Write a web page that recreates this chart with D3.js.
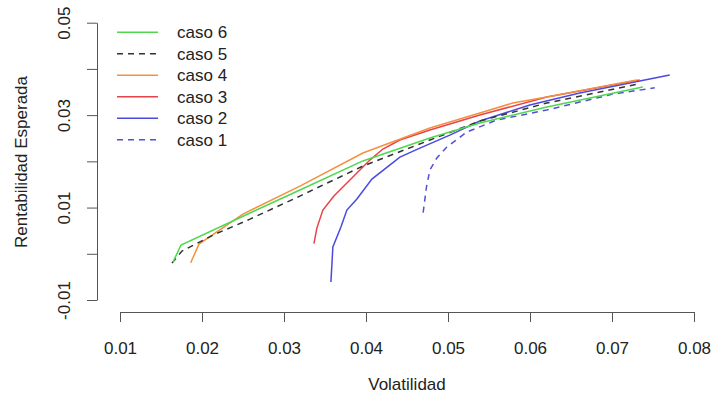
<!DOCTYPE html>
<html>
<head>
<meta charset="utf-8">
<script src="https://cdn.jsdelivr.net/npm/d3@7"></script>
<style>
  body { margin: 0; background: #fff; }
  text { font-family: "Liberation Sans", Arial, sans-serif; fill: #222; }
</style>
</head>
<body>
<div id="frontier"></div>
<script>
// Values (volatility, expected return)
const caso1Vol = [0.04697, 0.04738, 0.04779, 0.04864, 0.04986, 0.0523, 0.05595, 0.06205, 0.07009, 0.07521];
const caso1Ret = [0.00892, 0.0145, 0.01812, 0.02072, 0.0231, 0.02635, 0.02894, 0.0311, 0.03455, 0.0359];

const caso2Vol = [0.03572, 0.03596, 0.03694, 0.03767, 0.03889, 0.04072, 0.04413, 0.04657, 0.05022, 0.05388, 0.05998, 0.06607, 0.07704];
const caso2Ret = [-0.00612, 0.00146, 0.00579, 0.00946, 0.01184, 0.01615, 0.02091, 0.02286, 0.02567, 0.02872, 0.03218, 0.03478, 0.03868];

const caso3Vol = [0.03365, 0.03401, 0.03474, 0.03609, 0.03804, 0.04047, 0.04206, 0.04413, 0.04779, 0.05388, 0.06205, 0.07338];
const caso3Ret = [0.00221, 0.00556, 0.00946, 0.01249, 0.01595, 0.02028, 0.02267, 0.02461, 0.02678, 0.03003, 0.03392, 0.0376];

const caso4Vol = [0.01862, 0.01963, 0.02499, 0.03194, 0.03962, 0.04779, 0.05388, 0.0579, 0.06205, 0.07302];
const caso4Ret = [-0.00195, 0.0021, 0.00859, 0.01465, 0.0218, 0.02721, 0.03046, 0.03262, 0.03392, 0.0376];

const caso5Vol = [0.01634, 0.01756, 0.02134, 0.02585, 0.03194, 0.03962, 0.04779, 0.05388, 0.06205, 0.07314];
const caso5Ret = [-0.0020, 0.00058, 0.00404, 0.00749, 0.01249, 0.01898, 0.02461, 0.02872, 0.03262, 0.03673];

const caso6Vol = [0.01646, 0.01744, 0.02585, 0.03194, 0.03962, 0.04779, 0.05388, 0.06205, 0.07375];
const caso6Ret = [-0.0018, 0.00189, 0.00883, 0.01381, 0.02009, 0.02505, 0.02829, 0.03175, 0.03608];

const legendNames = ["caso 6", "caso 5", "caso 4", "caso 3", "caso 2", "caso 1"];

const xTicks = [0.01, 0.02, 0.03, 0.04, 0.05, 0.06, 0.07, 0.08];
const yTicks = [-0.01, 0, 0.01, 0.02, 0.03, 0.04, 0.05];
const yTickLabels = ["-0.01", "", "0.01", "", "0.03", "", "0.05"];

// Series styling
const series = [
  { name: "caso 1", vol: caso1Vol, ret: caso1Ret, color: "#5050d8", dash: "6,5" },
  { name: "caso 2", vol: caso2Vol, ret: caso2Ret, color: "#4a4ae0", dash: null },
  { name: "caso 3", vol: caso3Vol, ret: caso3Ret, color: "#e8434a", dash: null },
  { name: "caso 4", vol: caso4Vol, ret: caso4Ret, color: "#f3913f", dash: null },
  { name: "caso 5", vol: caso5Vol, ret: caso5Ret, color: "#333333", dash: "6,5" },
  { name: "caso 6", vol: caso6Vol, ret: caso6Ret, color: "#4ed84e", dash: null }
];

const width = 713;
const height = 403;

const svg = d3.select("#frontier")
  .append("svg")
  .attr("width", width)
  .attr("height", height);

// Scales (R style: axis lines sit at the edge of the plot region)
const xScale = d3.scaleLinear().domain([0.01, 0.08]).range([120, 694]);
const yScale = d3.scaleLinear().domain([-0.01, 0.05]).range([300, 22.7]);
const xAxisY = 312;
const yAxisX = 97;

// x-axis
const xAxis = svg.append("g")
  .attr("transform", `translate(0,${xAxisY})`)
  .call(d3.axisBottom(xScale).tickValues(xTicks).tickSize(10).tickSizeOuter(0)
    .tickFormat(d3.format(".2f")));
xAxis.selectAll("path, line").attr("stroke", "#555");
xAxis.selectAll("text")
  .attr("y", 30)
  .style("font-size", "17px")
  .style("fill", "#222");

// y-axis with rotated labels
const yAxis = svg.append("g")
  .attr("transform", `translate(${yAxisX},0)`)
  .call(d3.axisLeft(yScale).tickValues(yTicks).tickSize(10).tickSizeOuter(0)
    .tickFormat((d, i) => yTickLabels[i]));
yAxis.selectAll("path, line").attr("stroke", "#555");
yAxis.selectAll("text")
  .attr("transform", "rotate(-90)")
  .attr("x", 0)
  .attr("y", -33)
  .attr("dy", "0.35em")
  .attr("text-anchor", "middle")
  .style("font-size", "17px")
  .style("fill", "#222");

// Axis titles
svg.append("text")
  .attr("x", 407)
  .attr("y", 390)
  .attr("text-anchor", "middle")
  .style("font-size", "17px")
  .text("Volatilidad");

svg.append("text")
  .attr("transform", "rotate(-90)")
  .attr("x", -162)
  .attr("y", 27)
  .attr("text-anchor", "middle")
  .style("font-size", "17px")
  .text("Rentabilidad Esperada");

// Lines
const line = d3.line()
  .x(d => xScale(d[0]))
  .y(d => yScale(d[1]));

series.forEach(s => {
  svg.append("path")
    .datum(s.vol.map((v, i) => [v, s.ret[i]]))
    .attr("fill", "none")
    .attr("stroke", s.color)
    .attr("stroke-width", 1.5)
    .attr("stroke-dasharray", s.dash)
    .attr("d", line);
});

// Legend
const legend = svg.append("g").attr("transform", "translate(117,32.3)");
legendNames.forEach((name, i) => {
  const s = series.find(d => d.name === name);
  legend.append("line")
    .attr("x1", 0)
    .attr("x2", 41)
    .attr("y1", i * 21.5)
    .attr("y2", i * 21.5)
    .attr("stroke", s.color)
    .attr("stroke-width", 1.5)
    .attr("stroke-dasharray", s.dash);
  legend.append("text")
    .attr("x", 60)
    .attr("y", i * 21.5)
    .attr("dy", "0.35em")
    .style("font-size", "17px")
    .text(name);
});
</script>
</body>
</html>
